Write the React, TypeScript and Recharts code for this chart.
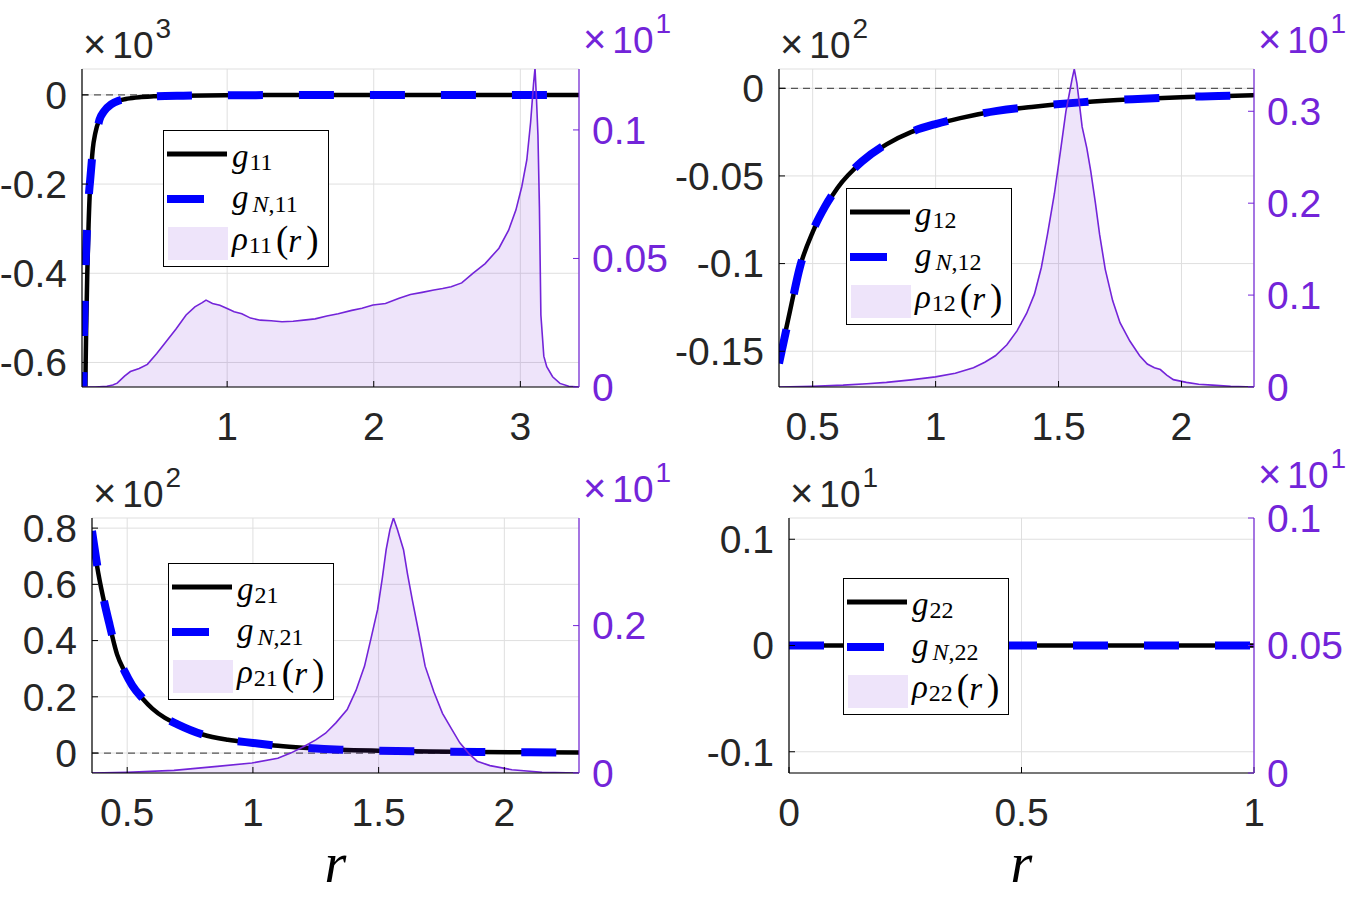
import React from "react";
import {
  Area,
  CartesianGrid,
  ComposedChart,
  Legend,
  Line,
  ReferenceLine,
  XAxis,
  YAxis,
} from "recharts";

const PURPLE = "#7324d9";
const BLUE = "#0000ff";
const INK = "#262626";
const GRID = "#dfdfdf";
const SANS = '"Liberation Sans", Arial, Helvetica, sans-serif';
const SERIF = '"Liberation Serif", "Times New Roman", serif';

// panel (1,1): left axis x10^3, right axis x10^1
const R_G11 = [0.032, 0.035, 0.04, 0.046, 0.055, 0.066, 0.075, 0.084, 0.1, 0.13, 0.16, 0.21, 0.26, 0.32, 0.4, 0.5, 0.7, 1, 1.5, 2, 2.5, 3, 3.4];
const G11 = [-0.7, -0.6, -0.5, -0.4, -0.29, -0.2, -0.155, -0.12, -0.087, -0.053, -0.036, -0.021, -0.013, -0.0085, -0.0052, -0.0033, -0.0017, -0.0008, -0.0004, -0.0002, -0.00015, -0.0001, -0.0001];
const R_GN11 = [0.017, 0.02, 0.022, 0.027, 0.033, 0.04, 0.05, 0.058, 0.066, 0.084, 0.107, 0.13, 0.16, 0.21, 0.26, 0.32, 0.4, 0.5, 0.7, 1, 1.5, 2, 2.5, 3, 3.4];
const GN11 = [-0.7, -0.62, -0.56, -0.48, -0.4, -0.33, -0.265, -0.22, -0.19, -0.125, -0.088, -0.055, -0.037, -0.021, -0.013, -0.0085, -0.0052, -0.0033, -0.0017, -0.0008, -0.0004, -0.0002, -0.00015, -0.0001, -0.0001];
const R_RHO11 = [0.01, 0.1, 0.18, 0.22, 0.25, 0.3, 0.34, 0.4, 0.456, 0.52, 0.575, 0.65, 0.72, 0.78, 0.83, 0.856, 0.9, 0.95, 1.0, 1.048, 1.1, 1.16, 1.226, 1.3, 1.374, 1.45, 1.522, 1.6, 1.68, 1.758, 1.85, 1.92, 1.995, 2.08, 2.173, 2.25, 2.33, 2.41, 2.47, 2.528, 2.6, 2.676, 2.76, 2.854, 2.92, 2.97, 3.01, 3.044, 3.07, 3.09, 3.1, 3.11, 3.12, 3.13, 3.14, 3.16, 3.18, 3.22, 3.27, 3.33, 3.4];
const RHO11 = [0, 0, 0.0003, 0.0008, 0.0015, 0.0042, 0.006, 0.0072, 0.0088, 0.013, 0.017, 0.0225, 0.028, 0.0312, 0.0328, 0.0338, 0.0325, 0.0318, 0.0305, 0.0293, 0.0285, 0.0268, 0.026, 0.0258, 0.0254, 0.0256, 0.026, 0.0265, 0.0276, 0.0285, 0.0298, 0.0306, 0.0319, 0.0325, 0.0345, 0.036, 0.0368, 0.0377, 0.0383, 0.039, 0.0405, 0.0442, 0.048, 0.054, 0.061, 0.0689, 0.078, 0.0883, 0.103, 0.118, 0.124, 0.112, 0.098, 0.07, 0.028, 0.012, 0.0079, 0.004, 0.0014, 0.0003, 0];

// panel (1,2): left axis x10^2
const R_G12 = [0.363, 0.4, 0.45, 0.5, 0.55, 0.6, 0.7, 0.8, 0.9, 1.0, 1.1, 1.25, 1.4, 1.6, 1.8, 2.0, 2.15, 2.295];
const G12 = [-0.156, -0.132, -0.101, -0.082, -0.068, -0.057, -0.042, -0.032, -0.025, -0.0205, -0.017, -0.013, -0.0105, -0.008, -0.0063, -0.0051, -0.0045, -0.0039];
const GN12 = [-0.157, -0.133, -0.101, -0.0815, -0.0675, -0.0567, -0.0418, -0.0318, -0.0249, -0.0204, -0.0169, -0.0129, -0.0104, -0.0079, -0.0062, -0.005, -0.0044, -0.0038];
const R_RHO12 = [0.363, 0.5, 0.624, 0.72, 0.8, 0.9, 0.999, 1.08, 1.154, 1.2, 1.243, 1.29, 1.331, 1.37, 1.402, 1.43, 1.455, 1.483, 1.508, 1.53, 1.543, 1.555, 1.564, 1.575, 1.596, 1.615, 1.631, 1.65, 1.667, 1.69, 1.72, 1.75, 1.79, 1.83, 1.861, 1.89, 1.914, 1.94, 1.967, 2.02, 2.07, 2.126, 2.2, 2.295];
const RHO12 = [0, 0.0008, 0.002, 0.0035, 0.005, 0.0078, 0.011, 0.015, 0.021, 0.027, 0.034, 0.046, 0.061, 0.08, 0.101, 0.13, 0.166, 0.21, 0.257, 0.3, 0.318, 0.335, 0.346, 0.33, 0.283, 0.26, 0.235, 0.2, 0.166, 0.128, 0.094, 0.07, 0.05, 0.034, 0.025, 0.021, 0.019, 0.013, 0.008, 0.005, 0.003, 0.002, 0.0008, 0];

// panel (2,1): left axis x10^2
const R_G21 = [0.36, 0.385, 0.41, 0.43, 0.46, 0.49, 0.52, 0.56, 0.6, 0.65, 0.7, 0.8, 0.9, 1.0, 1.1, 1.2, 1.35, 1.5, 1.7, 1.9, 2.1, 2.297];
const G21 = [0.78, 0.64, 0.53, 0.455, 0.35, 0.29, 0.24, 0.195, 0.158, 0.125, 0.103, 0.066, 0.047, 0.036, 0.026, 0.019, 0.012, 0.0085, 0.0055, 0.0037, 0.0027, 0.002];
const GN21 = [0.79, 0.645, 0.532, 0.456, 0.351, 0.29, 0.241, 0.196, 0.158, 0.125, 0.102, 0.066, 0.047, 0.036, 0.026, 0.019, 0.012, 0.0085, 0.0055, 0.0037, 0.0027, 0.002];
const R_RHO21 = [0.36, 0.5, 0.686, 0.858, 0.996, 1.099, 1.15, 1.203, 1.25, 1.289, 1.33, 1.375, 1.41, 1.444, 1.47, 1.496, 1.515, 1.53, 1.545, 1.559, 1.575, 1.599, 1.615, 1.634, 1.66, 1.685, 1.72, 1.754, 1.79, 1.823, 1.86, 1.892, 1.943, 2.03, 2.15, 2.297];
const RHO21 = [0, 0.001, 0.0035, 0.009, 0.0136, 0.02, 0.027, 0.036, 0.045, 0.054, 0.068, 0.086, 0.112, 0.145, 0.183, 0.222, 0.265, 0.303, 0.33, 0.346, 0.33, 0.303, 0.27, 0.235, 0.19, 0.145, 0.11, 0.081, 0.06, 0.041, 0.026, 0.016, 0.01, 0.0045, 0.001, 0];

// panel (2,2): left axis x10^1, flat
const R_G22 = [0, 0.25, 0.5, 0.75, 1];
const G22 = [0, 0, 0, 0, 0];
const GN22 = [0, 0, 0, 0, 0];

type Pt = { r: number; v: number };
const pts = (r: number[], v: number[]): Pt[] => r.map((x, i) => ({ r: x, v: v[i] }));

type Spec = {
  id: string;
  left: number;
  top: number;
  yw: number;
  mt: number;
  height: number;
  xh: number;
  xDomain: [number, number];
  xTicks: number[];
  yDomain: [number, number];
  yTicks: number[];
  rhoDomain: [number, number];
  rhoTicks: number[];
  yExp: number;
  rExpLift: number;
  g: Pt[];
  gN: Pt[];
  rho: Pt[];
  legend: [number, number];
  xLabel: boolean;
};

const W = 675;
const RW = 96;

const PANELS: Spec[] = [
  {
    id: "11", left: 0, top: 0, yw: 82, mt: 69, height: 447, xh: 60,
    xDomain: [0.01, 3.4], xTicks: [1, 2, 3],
    yDomain: [-0.655, 0.058], yTicks: [-0.6, -0.4, -0.2, 0],
    rhoDomain: [0, 0.1237], rhoTicks: [0, 0.05, 0.1], yExp: 3, rExpLift: 16,
    g: pts(R_G11, G11), gN: pts(R_GN11, GN11), rho: pts(R_RHO11, RHO11),
    legend: [163, 130], xLabel: false,
  },
  {
    id: "12", left: 675, top: 0, yw: 104, mt: 69, height: 447, xh: 60,
    xDomain: [0.363, 2.295], xTicks: [0.5, 1, 1.5, 2],
    yDomain: [-0.1704, 0.011], yTicks: [-0.15, -0.1, -0.05, 0],
    rhoDomain: [0, 0.346], rhoTicks: [0, 0.1, 0.2, 0.3], yExp: 2, rExpLift: 16,
    g: pts(R_G12, G12), gN: pts(R_G12, GN12), rho: pts(R_RHO12, RHO12),
    legend: [846, 188], xLabel: false,
  },
  {
    id: "21", left: 0, top: 440, yw: 92, mt: 78, height: 453, xh: 120,
    xDomain: [0.36, 2.297], xTicks: [0.5, 1, 1.5, 2],
    yDomain: [-0.071, 0.836], yTicks: [0, 0.2, 0.4, 0.6, 0.8],
    rhoDomain: [0, 0.346], rhoTicks: [0, 0.2], yExp: 2, rExpLift: 16,
    g: pts(R_G21, G21), gN: pts(R_G21, GN21), rho: pts(R_RHO21, RHO21),
    legend: [168, 563], xLabel: true,
  },
  {
    id: "22", left: 675, top: 440, yw: 114, mt: 78, height: 453, xh: 120,
    xDomain: [0, 1], xTicks: [0, 0.5, 1],
    yDomain: [-0.12, 0.12], yTicks: [-0.1, 0, 0.1],
    rhoDomain: [0, 0.1], rhoTicks: [0, 0.05, 0.1], yExp: 1, rExpLift: 30,
    g: pts(R_G22, G22), gN: pts(R_G22, GN22), rho: [],
    legend: [843, 578], xLabel: true,
  },
];

const ExpLabel = ({ viewBox, exp, side, color, lift }: any) => {
  const x = side === "left" ? viewBox.x + viewBox.width + 1 : viewBox.x + 4;
  const y = viewBox.y - lift;
  return (
    <text x={x} y={y} fill={color} fontFamily={SANS} fontSize={37}>
      <tspan fontSize={40}>×</tspan>
      <tspan dx={6}>10</tspan>
      <tspan dx={2} dy={-20} fontSize={28}>{exp}</tspan>
    </text>
  );
};

const RLabel = ({ viewBox }: any) => (
  <text
    x={viewBox.x + viewBox.width / 2}
    y={viewBox.y + 109}
    textAnchor="middle"
    fontFamily={SERIF}
    fontStyle="italic"
    fontSize={56}
    fill="#000"
  >
    r
  </text>
);

const LegendBox = ({ id }: { id: string }) => (
  <svg width={166} height={137} style={{ display: "block" }}>
    <rect x={0.5} y={0.5} width={165} height={136} fill="#fff" stroke="#000" strokeWidth={1} />
    <line x1={4} x2={64} y1={24} y2={24} stroke="#000" strokeWidth={5} />
    <line x1={4} x2={41} y1={69} y2={69} stroke={BLUE} strokeWidth={8} />
    <rect x={5} y={97} width={60} height={33} fill={PURPLE} fillOpacity={0.12} />
    <text x={69} y={37} fontFamily={SERIF} fontSize={33} fill="#000">
      <tspan fontStyle="italic">g</tspan>
      <tspan fontSize={24} dx={1} dy={3}>{id}</tspan>
    </text>
    <text x={69} y={78} fontFamily={SERIF} fontSize={33} fill="#000">
      <tspan fontStyle="italic">g</tspan>
      <tspan fontSize={24} dy={4} dx={4} fontStyle="italic">N</tspan>
      <tspan fontSize={24}>,{id}</tspan>
    </text>
    <text x={69} y={120} fontFamily={SERIF} fontSize={33} fill="#000">
      <tspan fontStyle="italic">ρ</tspan>
      <tspan fontSize={24} dx={1} dy={3}>{id}</tspan>
      <tspan fontSize={37} dx={4} dy={-1}>(</tspan>
      <tspan fontStyle="italic">r</tspan>
      <tspan fontSize={37} dx={5}>)</tspan>
    </text>
  </svg>
);

function Panel({ p }: { p: Spec }) {
  const tickFont = { fontSize: 39, fontFamily: SANS };
  return (
    <div style={{ position: "absolute", left: p.left, top: p.top }}>
      <ComposedChart width={W} height={p.height} margin={{ top: p.mt, right: 0, bottom: 0, left: 0 }}>
        <CartesianGrid xAxisId="b" yAxisId="left" stroke={GRID} strokeWidth={1} />
        <XAxis
          xAxisId="b"
          dataKey="r"
          type="number"
          domain={p.xDomain}
          ticks={p.xTicks}
          interval={0}
          allowDataOverflow
          height={p.xh}
          axisLine={{ stroke: "#000", strokeWidth: 1.2 }}
          tickLine={{ stroke: "#000" }}
          tickSize={-6}
          tickMargin={31}
          tick={{ fill: INK, ...tickFont }}
          label={p.xLabel ? (lp: any) => <RLabel {...lp} /> : undefined}
        />
        <XAxis
          xAxisId="t"
          orientation="top"
          dataKey="r"
          type="number"
          domain={p.xDomain}
          ticks={p.xTicks}
          interval={0}
          allowDataOverflow
          height={0}
          axisLine={{ stroke: "#000", strokeWidth: 1.2 }}
          tickLine={{ stroke: "#000" }}
          tickSize={-6}
          tick={false}
        />
        <YAxis
          yAxisId="left"
          type="number"
          domain={p.yDomain}
          ticks={p.yTicks}
          interval={0}
          allowDataOverflow
          width={p.yw}
          axisLine={{ stroke: "#000", strokeWidth: 1.2 }}
          tickLine={{ stroke: "#000" }}
          tickSize={-6}
          tickMargin={21}
          tick={{ fill: INK, ...tickFont }}
          label={(lp: any) => <ExpLabel {...lp} exp={p.yExp} side="left" color={INK} lift={11} />}
        />
        <YAxis
          yAxisId="right"
          orientation="right"
          type="number"
          domain={p.rhoDomain}
          ticks={p.rhoTicks}
          interval={0}
          allowDataOverflow
          width={RW}
          axisLine={{ stroke: PURPLE, strokeWidth: 1.2 }}
          tickLine={{ stroke: PURPLE }}
          tickSize={-6}
          tickMargin={19}
          tick={{ fill: PURPLE, ...tickFont }}
          label={(lp: any) => <ExpLabel {...lp} exp={1} side="right" color={PURPLE} lift={p.rExpLift} />}
        />
        <ReferenceLine xAxisId="b" yAxisId="left" y={0} stroke="#555" strokeDasharray="7 5" strokeWidth={1.2} />
        <Line
          xAxisId="b"
          yAxisId="left"
          data={p.g}
          dataKey="v"
          type="monotone"
          stroke="#000"
          strokeWidth={4.5}
          dot={false}
          isAnimationActive={false}
        />
        <Line
          xAxisId="b"
          yAxisId="left"
          data={p.gN}
          dataKey="v"
          type="monotone"
          stroke={BLUE}
          strokeWidth={8}
          strokeDasharray="35 36"
          dot={false}
          isAnimationActive={false}
        />
        {p.rho.length > 0 && (
          <Area
            xAxisId="b"
            yAxisId="right"
            data={p.rho}
            dataKey="v"
            type="linear"
            stroke={PURPLE}
            strokeWidth={1.6}
            fill={PURPLE}
            fillOpacity={0.12}
            zIndex={450}
            isAnimationActive={false}
          />
        )}
        <Legend
          layout="vertical"
          align="center"
          verticalAlign="middle"
          wrapperStyle={{ left: p.legend[0] - p.left, top: p.legend[1] - p.top, width: 166, height: 137 }}
          content={() => <LegendBox id={p.id} />}
        />
      </ComposedChart>
    </div>
  );
}

export default function App() {
  return (
    <div
      style={{
        position: "absolute",
        left: 0,
        top: 0,
        width: 1350,
        height: 900,
        background: "#fff",
        overflow: "hidden",
      }}
    >
      {PANELS.map((p) => (
        <Panel key={p.id} p={p} />
      ))}
    </div>
  );
}
